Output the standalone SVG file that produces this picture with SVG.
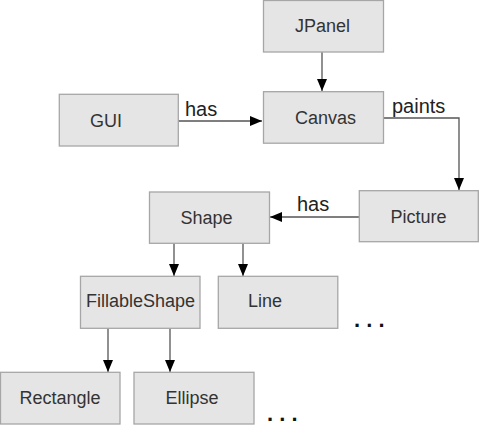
<svg xmlns="http://www.w3.org/2000/svg" width="479" height="425" viewBox="0 0 479 425">
<style>
.node rect{fill:#e5e5e5;stroke:#a6a6a6;stroke-width:1.3}
.node text{font-family:"Liberation Sans",Arial,sans-serif;font-size:18px;fill:#333333;text-anchor:middle}
.edge{fill:none;stroke:#555555;stroke-width:1.3}
.lbl{font-family:"Liberation Sans",Arial,sans-serif;font-size:20px;fill:#222222}
.dots{font-family:"Liberation Sans",Arial,sans-serif;font-size:22px;font-weight:bold;fill:#111111}
</style>
<defs>
<marker id="arr" markerWidth="12" markerHeight="11" viewBox="0 0 12 11" refX="12" refY="5.5" orient="auto" markerUnits="userSpaceOnUse">
<path d="M0,0.5 L12,5.5 L0,10.5 Z" fill="#000000"/>
</marker>
</defs>
<rect width="479" height="425" fill="#ffffff"/>
<g id="connectors">
<path class="edge" d="M322,52 V91" marker-end="url(#arr)"/>
<path class="edge" d="M178,121 H262" marker-end="url(#arr)"/>
<path class="edge" d="M383,118 H459 V190" marker-end="url(#arr)"/>
<path class="edge" d="M359,217 H270" marker-end="url(#arr)"/>
<path class="edge" d="M174,243 V276" marker-end="url(#arr)"/>
<path class="edge" d="M243,243 V276" marker-end="url(#arr)"/>
<path class="edge" d="M108,328 V372" marker-end="url(#arr)"/>
<path class="edge" d="M170,328 V372" marker-end="url(#arr)"/>
<text class="lbl" x="185" y="116">has</text>
<text class="lbl" x="392" y="113">paints</text>
<text class="lbl" x="297" y="211">has</text>
</g>
<g id="JPanel" class="node"><rect x="263.5" y="0.5" width="120" height="51.5"/><text x="322.5" y="32">JPanel</text></g>
<g id="Canvas" class="node"><rect x="263.5" y="91.7" width="120" height="51.5"/><text x="325.5" y="124">Canvas</text></g>
<g id="GUI" class="node"><rect x="59.3" y="94.3" width="119" height="51.7"/><text x="106" y="127">GUI</text></g>
<g id="Picture" class="node"><rect x="359.3" y="190.7" width="119" height="51"/><text x="418.5" y="222.5">Picture</text></g>
<g id="Shape" class="node"><rect x="149.5" y="192" width="120" height="51.3"/><text x="206.5" y="224.3">Shape</text></g>
<g id="FillableShape" class="node"><rect x="80.5" y="276.3" width="119.5" height="52"/><text x="140.5" y="306.7">FillableShape</text></g>
<g id="Line" class="node"><rect x="218.3" y="276.3" width="119.5" height="52"/><text x="265" y="306.7">Line</text></g>
<g id="Rectangle" class="node"><rect x="0.5" y="372.3" width="119.5" height="51.7"/><text x="60" y="404">Rectangle</text></g>
<g id="Ellipse" class="node"><rect x="134" y="372.3" width="120" height="51.7"/><text x="192" y="404">Ellipse</text></g>
<text class="dots" x="354" y="327">. . .</text>
<text class="dots" x="267" y="421">. . .</text>
</svg>
